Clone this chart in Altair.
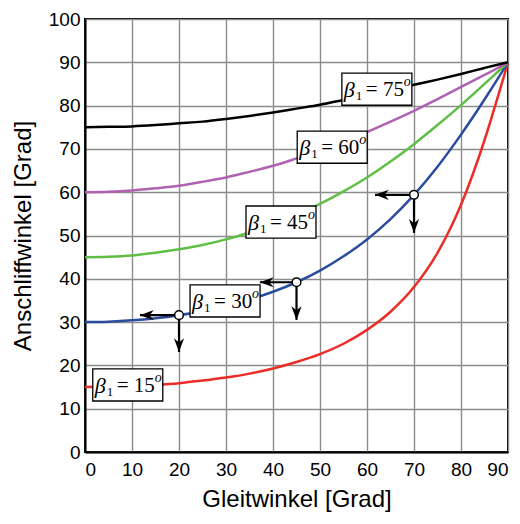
import altair as alt
import pandas as pd

# Gleitwinkel (x) sample positions
gleit = [0, 5, 10, 15, 20, 25, 30, 35, 40, 45, 50, 55, 60, 65, 70, 75, 80, 85, 88, 90]

# Anschliffwinkel
b15 = [15.0, 15.1, 15.2, 15.5, 15.9, 16.5, 17.2, 18.1, 19.3, 20.8, 22.6, 25.0, 28.2, 32.4, 38.1, 46.0, 57.1, 72.0, 82.6, 90.0]
b30 = [30.0, 30.1, 30.4, 30.9, 31.6, 32.5, 33.7, 35.2, 37.0, 39.2, 41.9, 45.2, 49.1, 53.8, 59.4, 65.9, 73.3, 81.4, 86.5, 90.0]
b45 = [45.0, 45.1, 45.4, 46.0, 46.8, 47.8, 49.1, 50.7, 52.5, 54.7, 57.3, 60.2, 63.4, 67.1, 71.1, 75.5, 80.1, 85.0, 88.0, 90.0]
b60 = [60.0, 60.1, 60.4, 60.9, 61.5, 62.4, 63.4, 64.7, 66.1, 67.8, 69.6, 71.7, 73.9, 76.3, 78.8, 81.5, 84.3, 87.1, 88.8, 90.0]
b75 = [75.0, 75.1, 75.2, 75.5, 75.9, 76.3, 76.9, 77.6, 78.4, 79.3, 80.2, 81.3, 82.4, 83.5, 84.8, 86.0, 87.3, 88.7, 89.5, 90.0]

series = ["15", "30", "45", "60", "75"]
colors = ["#ec2d27", "#2b4c9e", "#5fbf45", "#b062b0", "#000000"]

# labels
lab_beta = ["15", "30", "45", "60", "75"]
lab_x = [9.1, 29.8, 41.7, 52.6, 62.1]
lab_y = [15.5, 34.9, 53.1, 70.4, 83.8]

# marked points and arrow ends
pt_x = [20, 45, 70]
pt_y = [31.6, 39.2, 59.4]
arr_left_x = [11.7, 37.2, 61.7]
arr_down_y = [23.1, 30.5, 50.6]

rows = []
for name, vals in zip(series, [b15, b30, b45, b60, b75]):
    for g, v in zip(gleit, vals):
        rows.append({"g": g, "a": v, "s": name})
curves = pd.DataFrame(rows)

xs = alt.Scale(domain=[0, 90], nice=False)
ys = alt.Scale(domain=[0, 100], nice=False)

xaxis = alt.Axis(values=list(range(0, 91, 10)), title="Gleitwinkel [Grad]", grid=True)
yaxis = alt.Axis(values=list(range(0, 101, 10)), title="Anschliffwinkel [Grad]", grid=True)

lines = alt.Chart(curves).mark_line(strokeWidth=2.5, interpolate="monotone").encode(
    x=alt.X("g:Q", scale=xs, axis=xaxis),
    y=alt.Y("a:Q", scale=ys, axis=yaxis),
    color=alt.Color("s:N", scale=alt.Scale(domain=series, range=colors), legend=None),
)

pts = pd.DataFrame({"x": pt_x, "y": pt_y, "xl": arr_left_x, "yd": arr_down_y})

harr = alt.Chart(pts).mark_rule(color="black", strokeWidth=2.2).encode(
    x=alt.X("x:Q", scale=xs), x2="xl:Q", y=alt.Y("y:Q", scale=ys))
varr = alt.Chart(pts).mark_rule(color="black", strokeWidth=2.2).encode(
    x=alt.X("x:Q", scale=xs), y=alt.Y("y:Q", scale=ys), y2="yd:Q")
hhead = alt.Chart(pts).mark_point(
    shape="M0,0 L2.3,-0.85 L1.6,0 L2.3,0.85 Z", size=144, filled=True, color="black", opacity=1
).encode(x=alt.X("xl:Q", scale=xs), y=alt.Y("y:Q", scale=ys))
vhead = alt.Chart(pts).mark_point(
    shape="M0,0 L-0.85,-2.3 L0,-1.6 L0.85,-2.3 Z", size=144, filled=True, color="black", opacity=1
).encode(x=alt.X("x:Q", scale=xs), y=alt.Y("yd:Q", scale=ys))
circ = alt.Chart(pts).mark_point(
    shape="circle", size=75, filled=True, fill="white", stroke="black", strokeWidth=1.5, opacity=1
).encode(x=alt.X("x:Q", scale=xs), y=alt.Y("y:Q", scale=ys))

labs = pd.DataFrame({"b": lab_beta, "x": lab_x, "y": lab_y})
labs["rest"] = "= " + labs["b"]
labs["beta"] = "\u03b2"
labs["sub"] = "1"
labs["sup"] = "o"

enc = dict(x=alt.X("x:Q", scale=xs), y=alt.Y("y:Q", scale=ys))

box = alt.Chart(labs).mark_point(
    shape="M-1,-0.46 L1,-0.46 L1,0.46 L-1,0.46 Z", size=4900, filled=True,
    fill="white", stroke="black", strokeWidth=1.3, opacity=1
).encode(**enc)
tbeta = alt.Chart(labs).mark_text(
    font="Liberation Serif", fontSize=22, fontStyle="italic", align="left", baseline="middle",
    dx=-33, dy=1, color="black"
).encode(text="beta:N", **enc)
tsub = alt.Chart(labs).mark_text(
    font="Liberation Serif", fontSize=13, align="left", baseline="middle",
    dx=-21, dy=7, color="black"
).encode(text="sub:N", **enc)
trest = alt.Chart(labs).mark_text(
    font="Liberation Serif", fontSize=21, align="left", baseline="middle",
    dx=-11, dy=1, color="black"
).encode(text="rest:N", **enc)
tsup = alt.Chart(labs).mark_text(
    font="Liberation Serif", fontSize=14, fontStyle="italic", align="left", baseline="middle",
    dx=27, dy=-7, color="black"
).encode(text="sup:N", **enc)

chart = alt.layer(lines, harr, varr, hhead, vhead, circ, box, tbeta, tsub, trest, tsup).properties(
    width=423, height=433,
    autosize=alt.AutoSizeParams(type="none"),
    padding={"left": 77, "top": 11, "right": 4, "bottom": 64},
).configure_view(
    stroke="black", strokeWidth=2
).configure_axis(
    domainColor="black", domainWidth=2, gridColor="#8c8c8c", gridWidth=1.4,
    ticks=False, labelFont="Liberation Sans", labelFontSize=19, labelColor="black",
    titleFont="Liberation Sans", titleFontSize=24, titleFontWeight="normal", titleColor="black",
).configure_axisX(titlePadding=8, labelPadding=8).configure_axisY(titlePadding=13, labelPadding=5)

chart.save("out.html", embed_options={"renderer": "svg", "actions": False})
